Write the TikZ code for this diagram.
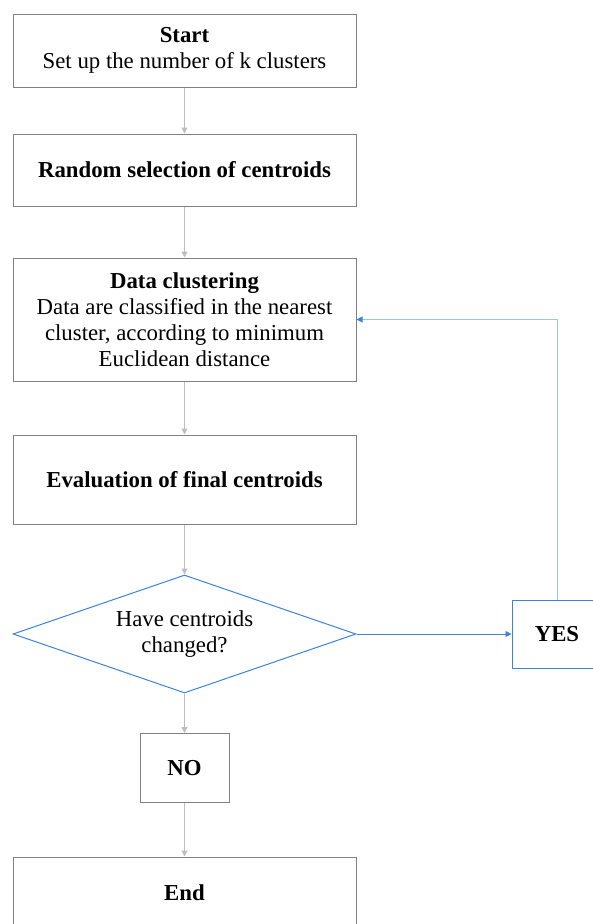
\documentclass[tikz,border=0pt]{standalone}
\usepackage{fontspec}
\setmainfont{Liberation Serif}
\usepackage{xcolor}
\usetikzlibrary{shapes.geometric,arrows.meta}
\definecolor{boxgray}{RGB}{128,128,128}
\definecolor{arrgray}{RGB}{190,190,190}
\definecolor{dblue}{RGB}{58,132,220}
\definecolor{lblue}{RGB}{160,196,232}

\begin{document}
\begin{tikzpicture}[x=1pt,y=-1pt,
  font=\fontsize{22.8}{26}\selectfont,
  stepbox/.style={draw=boxgray, line width=1pt, rectangle, align=center, minimum width=343pt, inner sep=0pt},
  ansbox/.style={stepbox, minimum width=89pt, minimum height=69pt, font=\fontsize{22.8}{26}\selectfont\bfseries},
  flow/.style={draw=arrgray, line width=1pt, -{Triangle[length=6pt,width=6pt]}}]
\def \midx {184.5}
\useasboundingbox (0,0) rectangle (593,924);
\clip (0,0) rectangle (593,924);
\node[stepbox, minimum height=73pt] at (\midx,50.5) (start) {\textbf{Start}\\Set up the number of k clusters};
\node[stepbox, minimum height=72pt] at (\midx,170) (rand) {\textbf{Random selection of centroids}};
\node[stepbox, minimum height=123pt] at (\midx,319.5) (clus) {\textbf{Data clustering}\\Data are classified in the nearest\\cluster, according to minimum\\Euclidean distance};
\node[stepbox, minimum height=89pt] at (\midx,479.5) (eval) {\textbf{Evaluation of final centroids}};
\node[draw=dblue, line width=1pt, diamond, shape aspect=2.9, inner sep=0pt, minimum width=343pt, minimum height=118pt, align=center] at (\midx,634) (chg) {Have centroids\\changed?};
\node[ansbox, draw=dblue, minimum width=90pt, minimum height=68pt] at (557,634) (yes) {YES};
\node[ansbox] at (\midx,768) (no) {NO};
\node[stepbox, minimum height=72pt] at (\midx,893) (end) {\textbf{End}};
\path[flow] (start) -- (rand);
\path[flow] (rand) -- (clus);
\path[flow] (clus) -- (eval);
\path[flow] (eval) -- (chg);
\path[flow] (chg) -- (no);
\path[flow] (no) -- (end);
\draw[dblue!80!gray, line width=0.8pt, -{Triangle[length=6pt,width=6pt,color=dblue]}] (chg) -- (yes);
\draw[lblue, line width=1pt, -{Triangle[length=6pt,width=6pt,color=dblue]}] (yes.north) |- (clus.east);
\end{tikzpicture}
\end{document}
